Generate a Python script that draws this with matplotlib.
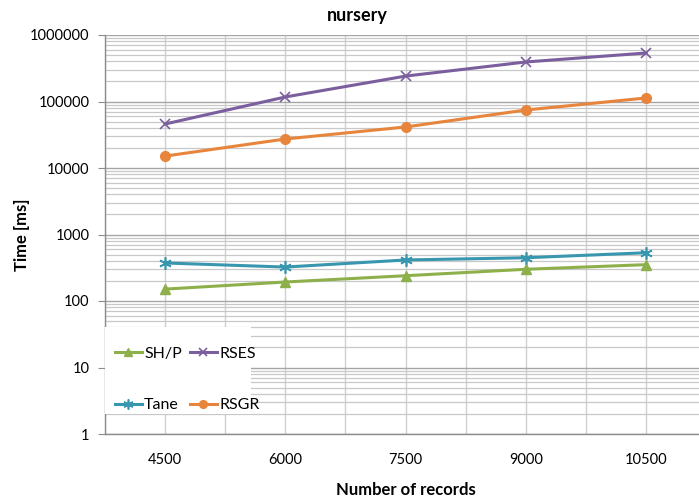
import matplotlib
matplotlib.use("Agg")
import matplotlib.pyplot as plt
from matplotlib.patches import Rectangle
from matplotlib.ticker import LogLocator, FixedLocator, NullFormatter

# ======== Dados =========
records = ["4500", "6000", "7500", "9000", "10500"]
shp = [151, 193, 240, 300, 352]
tane = [373, 324, 414, 447, 532]
rses = [45900, 117000, 241000, 393000, 536000]
rsgr = [15100, 27300, 41400, 74500, 113000]
y_ticks = [1, 10, 100, 1000, 10000, 100000, 1000000]

plt.rcParams['font.family'] = ['Lato', 'DejaVu Sans']

fig = plt.figure(figsize=(6.99, 5.03), dpi=100)
ax = fig.add_axes([105 / 699, 1 - 434 / 503, 1 - 105 / 699, (434 - 35) / 503])

x = list(range(len(records)))
ax.plot(x, shp, color='#8EB04B', marker='^', markersize=7, linewidth=2.2, label='SH/P')
ax.plot(x, tane, color='#3896AE', marker=(6, 2, 0), markersize=9, markeredgewidth=1.2,
        linewidth=2.2, label='Tane')
ax.plot(x, rses, color='#7B5E9E', marker='x', markersize=7, markeredgewidth=1.2,
        linewidth=2.2, label='RSES')
ax.plot(x, rsgr, color='#E8853C', marker='o', markersize=7, linewidth=2.2, label='RSGR')

ax.set_yscale('log')
ax.set_ylim(1, 1000000)
ax.set_xlim(-0.5, 4.44)

ax.yaxis.set_minor_locator(LogLocator(base=10, subs=range(2, 10), numticks=20))
ax.yaxis.set_minor_formatter(NullFormatter())
ax.set_yticks(y_ticks)
ax.set_yticklabels([str(v) for v in y_ticks])

ax.set_xticks(x)
ax.set_xticklabels(records)
ax.xaxis.set_minor_locator(FixedLocator([-0.5, 0.5, 1.5, 2.5, 3.5]))

# Grades
ax.grid(True, which='major', axis='y', color='#A6A6A6', linewidth=1.0)
ax.grid(True, which='minor', axis='y', color='#C8C8C8', linewidth=0.9)
ax.grid(True, which='both', axis='x', color='#D0D0D0', linewidth=1.0)
ax.set_axisbelow(True)

for s in ['top', 'right']:
    ax.spines[s].set_visible(False)
for s in ['left', 'bottom']:
    ax.spines[s].set_color('#8C8C8C')
    ax.spines[s].set_linewidth(1.0)

ax.tick_params(axis='y', which='major', length=5, color='#8C8C8C', labelsize=10.5, pad=6)
ax.tick_params(axis='y', which='minor', length=0)
ax.tick_params(axis='x', which='both', length=0, labelsize=10.5, pad=14)

# Título centralizado na figura (como no Excel)
fig.text(357 / 699, 1 - 15 / 503, "nursery", fontsize=13, fontweight='bold',
         ha='center', va='center')
ax.set_xlabel("Number of records", fontsize=12, fontweight='bold')
ax.set_ylabel("Time [ms]", fontsize=12, fontweight='bold')
ax.xaxis.set_label_coords((406 - 105) / 594, -(490 - 434) / 399)
ax.yaxis.set_label_coords(-(105 - 22) / 594, 0.5)
ax.xaxis.label.set_va('center')
ax.yaxis.label.set_va('center')

# Fundo branco da legenda
ax.add_patch(Rectangle((0, 0.05), 0.246, 0.218, transform=ax.transAxes,
                       facecolor='white', edgecolor='none', zorder=3))

leg = ax.legend(loc='lower left', bbox_to_anchor=(0.008, 0.042), ncol=2, fontsize=11.5,
                frameon=False, handlelength=1.7, handletextpad=0.15, columnspacing=0.5,
                labelspacing=2.35, borderpad=0.3, borderaxespad=0.0, markerscale=0.8)
leg.set_zorder(4)

fig.savefig("out.png", dpi=100)
